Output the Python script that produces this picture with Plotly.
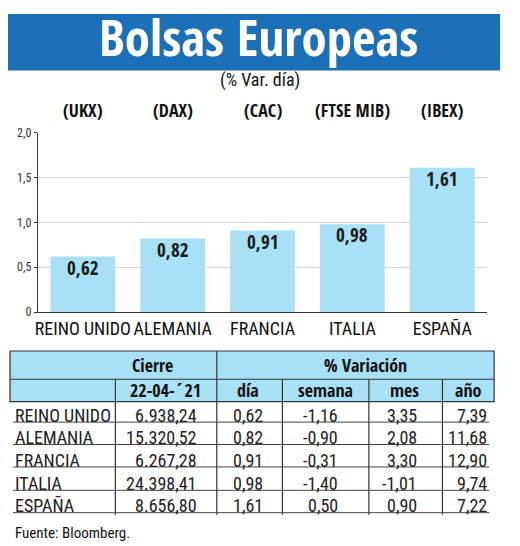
import plotly.graph_objects as go

# la página deja 8 px de margen en el body: la figura ocupa el resto de la ventana
W, H, OFF = 520, 546, 8

paises = ["REINO UNIDO", "ALEMANIA", "FRANCIA", "ITALIA", "ESPAÑA"]
indices = ["(UKX)", "(DAX)", "(CAC)", "(FTSE MIB)", "(IBEX)"]
cierre = [6938.24, 15320.52, 6267.28, 24398.41, 8656.80]
dia = [0.62, 0.82, 0.91, 0.98, 1.61]
semana = [-1.16, -0.90, -0.31, -1.40, 0.50]
mes = [3.35, 2.08, 3.30, -1.01, 0.90]
anio = [7.39, 11.68, 12.90, 9.74, 7.22]

ytick_vals = [0, 0.5, 1.0, 1.5, 2.0]
ytick_text = ["0", "0,5", "1,0", "1,5", "2,0"]
cabecera = ["22-04-´21", "día", "semana", "mes", "año"]

BOLD = "Open Sans Condensed, Roboto Condensed, sans-serif"
REG = "Roboto Condensed, DejaVu Sans Condensed, sans-serif"
AZUL = "#1b70b8"
CELESTE = "#a8e1f6"


def px(x):
    return (x - OFF) / (W - OFF)


def py(y):
    return 1 - (y - OFF) / (H - OFF)


def es(v):
    # formato español: miles con punto, decimales con coma
    s = f"{v:,.2f}"
    return s.replace(",", "X").replace(".", ",").replace("X", ".")


def texto(t, x, y, size, bold=False, xa="center", color="#111"):
    return dict(text=t, x=px(x), y=py(y), xref="paper", yref="paper",
                xanchor=xa, yanchor="middle", showarrow=False,
                font=dict(family=BOLD if bold else REG, size=size, color=color,
                          weight="bold" if bold else "normal"))


fig = go.Figure()

fig.add_trace(go.Bar(
    x=paises, y=dia,
    marker=dict(color=CELESTE, line=dict(width=0)),
    hoverinfo="skip",
))

shapes = []
ann = []

# etiquetas de valor dentro de las barras
for p, v in zip(paises, dia):
    ann.append(dict(text=es(v), x=p, y=v, xref="x", yref="y",
                    xanchor="center", yanchor="middle", yshift=-11, showarrow=False,
                    font=dict(family=BOLD, size=19, color="#1a1a1a", weight="bold")))

# cabecera azul
shapes.append(dict(type="rect", xref="paper", yref="paper",
                   x0=px(5), x1=px(500), y0=py(65), y1=py(7),
                   fillcolor=AZUL, line=dict(width=0), layer="below"))
ann.append(texto("Bolsas Europeas", 257, 30, 51, bold=True, color="white"))
ann.append(texto("(% Var. día)", 258, 75, 18))

for p, ind in zip(paises, indices):
    ann.append(dict(text=ind, x=p, y=py(106), xref="x", yref="paper",
                    xanchor="center", yanchor="middle", showarrow=False,
                    font=dict(family=BOLD, size=18, color="#111", weight="bold")))

# tabla
tx0, tx1 = 7, 494
cols = [113, 215, 281, 368, 442]
linea = dict(color="#333", width=1.2)
shapes.append(dict(type="rect", xref="paper", yref="paper",
                   x0=px(tx0), x1=px(tx1), y0=py(405), y1=py(353),
                   fillcolor=CELESTE, line=linea))
shapes.append(dict(type="line", xref="paper", yref="paper",
                   x0=px(tx0), x1=px(tx1), y0=py(382), y1=py(382), line=linea))
shapes.append(dict(type="line", xref="paper", yref="paper",
                   x0=px(cols[1]), x1=px(cols[1]), y0=py(353), y1=py(521), line=linea))
for c in [cols[0], cols[2], cols[3], cols[4]]:
    shapes.append(dict(type="line", xref="paper", yref="paper",
                       x0=px(c), x1=px(c), y0=py(382), y1=py(521), line=linea))

ann.append(texto("Cierre", 150, 367, 18, bold=True))
ann.append(texto("% Variación", 365, 367, 18, bold=True))
for t, xc in zip(cabecera, [163, 246, 324, 404, 468]):
    ann.append(texto(t, xc, 393, 18, bold=True))

row_lines = [426, 449, 472, 496, 519]
right_edges = [197, 263, 339, 418, 489]
for i, p in enumerate(paises):
    yl = row_lines[i]
    yc = yl - 7
    shapes.append(dict(type="line", xref="paper", yref="paper",
                       x0=px(10), x1=px(489), y0=py(yl), y1=py(yl),
                       line=dict(color="#444", width=1)))
    ann.append(texto(p, 10, yc, 18, xa="left", color="#222"))
    vals = [cierre[i], dia[i], semana[i], mes[i], anio[i]]
    for v, xr in zip(vals, right_edges):
        ann.append(texto(es(v), xr, yc, 18, xa="right", color="#222"))

ann.append(texto("Fuente: Bloomberg.", 10, 540, 15, xa="left"))

fig.update_layout(
    width=W - OFF, height=H - OFF,
    margin=dict(l=0, r=0, t=0, b=0),
    paper_bgcolor="white", plot_bgcolor="white",
    showlegend=False,
    bargap=0.28,
    shapes=shapes,
    annotations=ann,
    xaxis=dict(domain=[px(35), px(487)], showgrid=False,
               showline=True, linecolor="#333", linewidth=1.2, tickangle=0,
               tickfont=dict(family=REG, size=18, color="#111"), ticks=""),
    yaxis=dict(domain=[py(313), py(129)], range=[0, 2.0],
               tickvals=ytick_vals, ticktext=ytick_text,
               tickfont=dict(family=REG, size=12, color="#333"),
               showgrid=True, gridcolor="#d4d4d4", gridwidth=1.2,
               showline=True, linecolor="#333", linewidth=1.2,
               zeroline=False, ticks="outside", ticklen=3, tickcolor="#333"),
)

fig.write_html("out.html")
